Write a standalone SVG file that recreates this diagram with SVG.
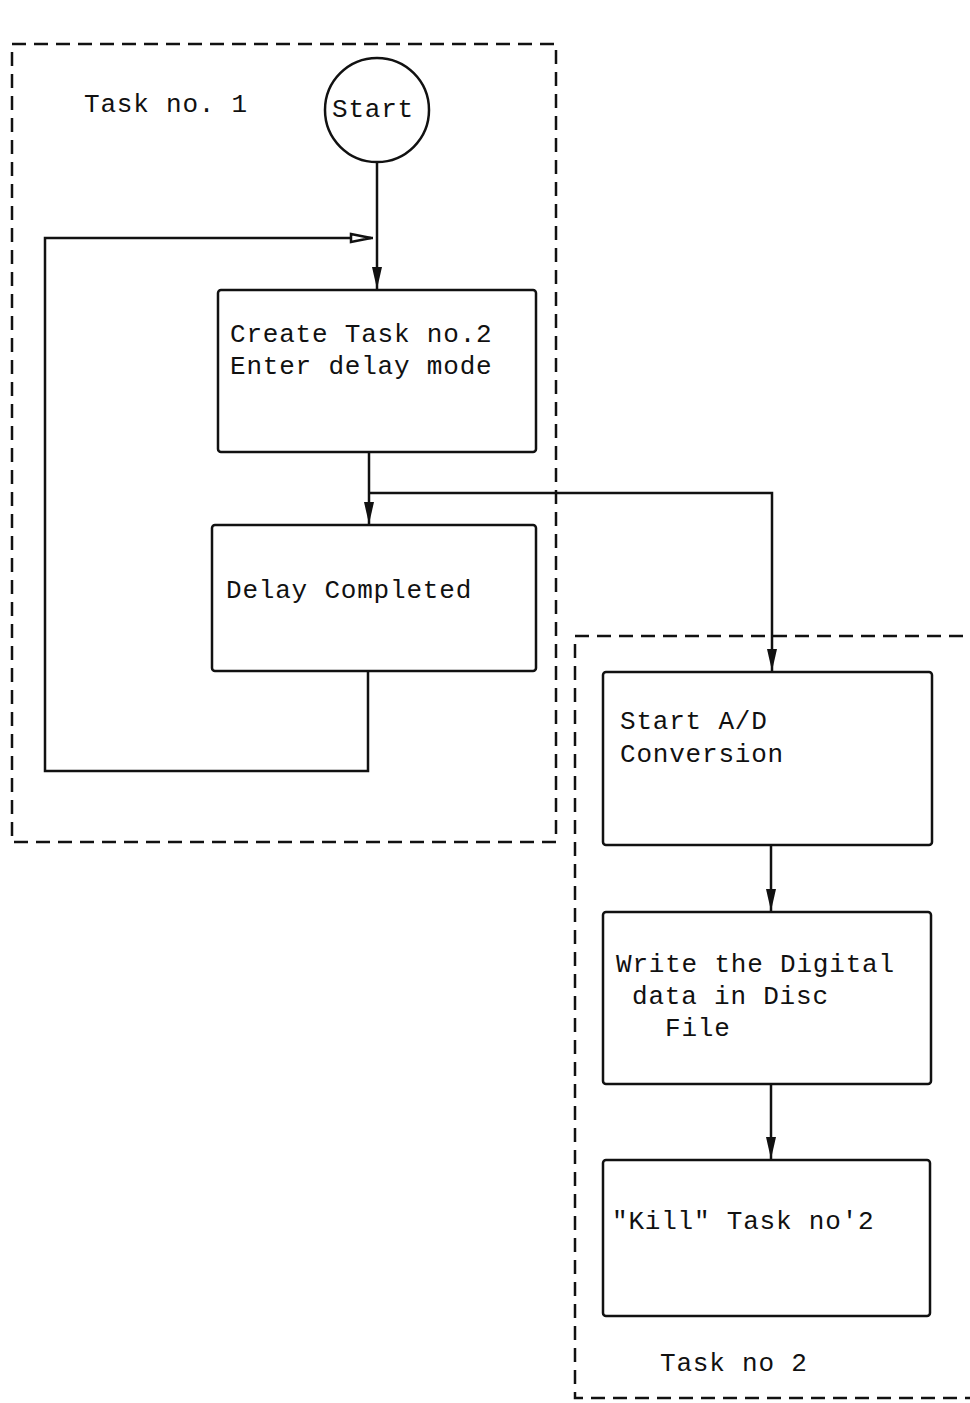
<svg xmlns="http://www.w3.org/2000/svg" width="970" height="1403" viewBox="0 0 970 1403">
<style>
.t{font-family:"Liberation Mono","DejaVu Sans Mono",monospace;font-size:26px;letter-spacing:0.8px;fill:#111}
.box{fill:none;stroke:#111;stroke-width:2.5}
.dash{fill:none;stroke:#111;stroke-width:2.5;stroke-dasharray:14 8}
.ln{fill:none;stroke:#111;stroke-width:2.5}
</style>
<defs>
<marker id="ah" viewBox="0 0 22 12" refX="22" refY="6" markerWidth="22" markerHeight="12" markerUnits="userSpaceOnUse" orient="auto">
<path d="M0,1 L22,6 L0,11 Z" fill="#111"/>
</marker>
<marker id="oh" viewBox="0 0 24 12" refX="24" refY="6" markerWidth="24" markerHeight="12" markerUnits="userSpaceOnUse" orient="auto">
<path d="M2,2 L22,6 L2,10 Z" fill="#fff" stroke="#111" stroke-width="2.5"/>
</marker>
</defs>
<rect width="970" height="1403" fill="#fff"/>
<g id="task1-frame">
<rect class="dash" x="12" y="44" width="544" height="798"/>
<text class="t" x="84" y="112">Task no. 1</text>
</g>
<g id="task2-frame">
<path class="dash" d="M985,636 H575 V1398 H985"/>
<text class="t" x="660" y="1371">Task no 2</text>
</g>
<g id="start">
<circle cx="377" cy="110" r="52" fill="none" stroke="#111" stroke-width="2.5"/>
<text class="t" x="332" y="117">Start</text>
</g>
<g id="create">
<rect class="box" x="218" y="290" width="318" height="162" rx="3"/>
<text class="t" x="230" y="342">Create Task no.2</text>
<text class="t" x="230" y="374">Enter delay mode</text>
</g>
<g id="delay">
<rect class="box" x="212" y="525" width="324" height="146" rx="3"/>
<text class="t" x="226" y="598">Delay Completed</text>
</g>
<g id="startad">
<rect class="box" x="603" y="672" width="329" height="173" rx="3"/>
<text class="t" x="620" y="729">Start A/D</text>
<text class="t" x="620" y="762">Conversion</text>
</g>
<g id="write">
<rect class="box" x="603" y="912" width="328" height="172" rx="3"/>
<text class="t" x="616" y="972">Write the Digital</text>
<text class="t" x="632" y="1004">data in Disc</text>
<text class="t" x="665" y="1036">File</text>
</g>
<g id="kill">
<rect class="box" x="603" y="1160" width="327" height="156" rx="3"/>
<text class="t" x="612" y="1229">"Kill" Task no'2</text>
</g>
<g id="connectors">
<path class="ln" d="M377,162 V289" marker-end="url(#ah)"/>
<path class="ln" d="M368,671 V771 H45 V238 H373" marker-end="url(#oh)"/>
<path class="ln" d="M369,452 V524" marker-end="url(#ah)"/>
<path class="ln" d="M369,493 H772 V671" marker-end="url(#ah)"/>
<path class="ln" d="M771,845 V911" marker-end="url(#ah)"/>
<path class="ln" d="M771,1084 V1159" marker-end="url(#ah)"/>
</g>
</svg>
